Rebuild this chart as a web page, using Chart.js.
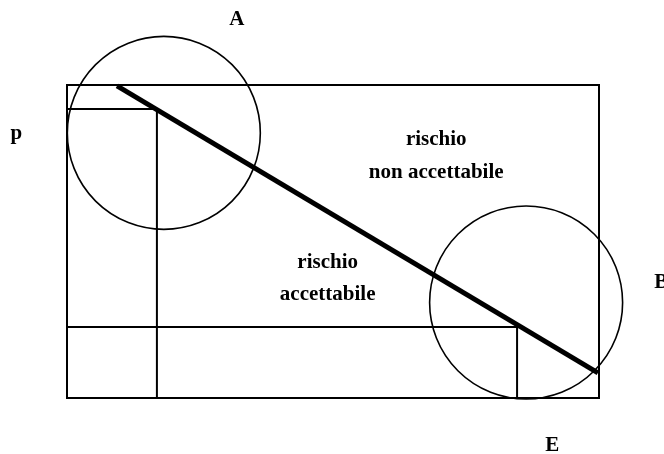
<!DOCTYPE html>
<html>
<head>
<meta charset="utf-8">
<script src="https://cdn.jsdelivr.net/npm/chart.js@4.4.1/dist/chart.umd.min.js"></script>
<style>
    html, body { margin: 0; padding: 0; background: #fff; }
    #wrap { width: 664px; height: 454px; position: relative; }
</style>
</head>
<body>
<div id="wrap"><canvas id="grafico"></canvas></div>
<script>
// coordinate: E in orizzontale, p in verticale, riquadro 0..100
var cornice_E = [0, 100, 100, 0, 0];
var cornice_p = [0, 0, 100, 100, 0];

var angoloA_E = [0, 16.9, 16.9];
var angoloA_p = [92.3, 92.3, 0];

var angoloB_E = [0, 84.6, 84.6];
var angoloB_p = [22.7, 22.7, 0];

var limite_E = [9.4, 99.8];
var limite_p = [99.7, 8.0];

var cerchi_E = [18.2, 86.3];
var cerchi_p = [84.7, 30.5];

var etichette = ['A', 'p', 'B', 'E', 'rischio', 'non accettabile', 'rischio', 'accettabile'];
var etichette_E = [31.9, -9.5, 111.7, 91.2, 69.4, 69.4, 49.0, 49.0];
var etichette_p = [119.2, 82.7, 35.1, -16.9, 80.8, 70.3, 41.5, 31.3];

function punti(xs, ys) {
    return xs.map(function (x, i) { return { x: x, y: ys[i] }; });
}

function linea(xs, ys, spessore, cap) {
    return {
        data: punti(xs, ys),
        showLine: true, borderColor: '#000', borderWidth: spessore,
        pointRadius: 0, fill: false, tension: 0, borderCapStyle: cap || 'butt', clip: false
    };
}

var testiPlugin = {
    id: 'testi',
    afterDatasetsDraw: function (chart) {
        var ctx = chart.ctx, sx = chart.scales.x, sy = chart.scales.y;
        ctx.save();
        ctx.fillStyle = '#000';
        ctx.font = 'bold 21px "Liberation Serif", "Times New Roman", serif';
        ctx.textAlign = 'center';
        ctx.textBaseline = 'alphabetic';
        etichette.forEach(function (t, i) {
            ctx.fillText(t, sx.getPixelForValue(etichette_E[i]), sy.getPixelForValue(etichette_p[i]));
        });
        ctx.restore();
    }
};

new Chart(document.getElementById('grafico').getContext('2d'), {
    type: 'scatter',
    data: {
        datasets: [
            linea(cornice_E, cornice_p, 2, 'square'),
            linea(angoloA_E, angoloA_p, 2),
            linea(angoloB_E, angoloB_p, 2),
            linea(limite_E, limite_p, 5),
            {
                data: punti(cerchi_E, cerchi_p),
                pointRadius: 96.5, pointHoverRadius: 96.5,
                pointBorderWidth: 1.6, pointBorderColor: '#000',
                pointBackgroundColor: 'rgba(0,0,0,0)', clip: false
            }
        ]
    },
    options: {
        responsive: true, maintainAspectRatio: false, animation: false,
        layout: { padding: 0, autoPadding: false },
        events: [],
        plugins: { legend: { display: false }, tooltip: { enabled: false } },
        scales: {
            x: { type: 'linear', min: -12.594, max: 112.218, display: false },
            y: { type: 'linear', min: -17.891, max: 127.157, display: false }
        }
    },
    plugins: [testiPlugin]
});
</script>
</body>
</html>
